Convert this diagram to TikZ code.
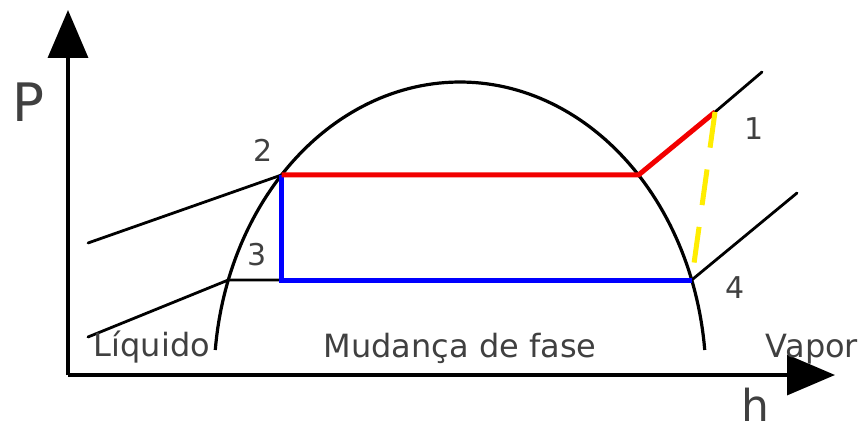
\documentclass[tikz,border=0pt]{standalone}
\usepackage{fontspec}
\setmainfont{DejaVu Sans}
\usetikzlibrary{arrows.meta}
\begin{document}
\begin{tikzpicture}[x=1pt,y=-1pt,
  axis/.style={line width=3.5pt,-{Triangle[width=40pt,length=48pt]}},
  dome/.style={line width=3.2pt,black},
  satline/.style={line width=2.8pt,black,line cap=round},
  redline/.style={line width=5pt,red!95!black,line join=round},
  blueline/.style={line width=5pt,blue,line join=miter},
  yellowline/.style={line width=5pt,yellow!95!orange,dash pattern=on 36pt off 22pt},
  lbl/.style={inner sep=0pt,anchor=base,text=black!75,font=\fontsize{32}{36}\selectfont},
  num/.style={inner sep=0pt,anchor=base,text=black!75,font=\fontsize{30}{34}\selectfont}]
\useasboundingbox (0,0) rectangle (861,430);
% axes
\coordinate (O) at (68,375);
\coordinate (Ptop) at (68,10);
\coordinate (Hend) at (835,375);
\draw[axis] (O) -- (Ptop);
\draw[axis] (O) -- (Hend);
% dome (ellipse arc)
\draw[dome] plot[domain=5.78:174.22,samples=120] ({460+246*cos(\x)},{380-298*sin(\x)});
% key points
\coordinate (p2) at (281.5,175);
\coordinate (p2r) at (638.5,175);
\coordinate (p3) at (228.3,280);
\coordinate (p3b) at (281.5,280);
\coordinate (p4) at (691.7,280);
\coordinate (p1) at (715,112);
\coordinate (p1e) at (762,72);
\coordinate (p4e) at (797,193);
\coordinate (l2) at (88,243);
\coordinate (l3) at (88,337);
% isobar lines
\draw[satline] (l2) -- (p2);
\draw[satline] (l3) -- (p3) -- (p3b);
\draw[satline] (p1) -- (p1e);
\draw[satline] (p4) -- (p4e);
% cycle
\draw[blueline] (p2) -- (p3b) -- (p4);
\draw[redline] (p2) -- (p2r) -- (p1);
\draw[yellowline] (p1) -- (p4);
% labels
\node[inner sep=0pt,anchor=base,text=black!75,font=\fontsize{53}{56}\selectfont] (lP) at (28,122) {P};
\node[inner sep=0pt,anchor=base,text=black!75,font=\fontsize{44}{46}\selectfont] (lh) at (755,421) {h};
\node[num] (n2) at (263,162) {2};
\node[num] (n3) at (257.5,265) {3};
\node[num] (n4) at (735,298) {4};
\node[num] (n1) at (754,140) {1};
\node[lbl] (liq) at (152,356) {Líquido};
\node[lbl] (mud) at (460,357) {Mudança de fase};
\node[lbl] (vap) at (812,357) {Vapor};
\end{tikzpicture}
\end{document}
